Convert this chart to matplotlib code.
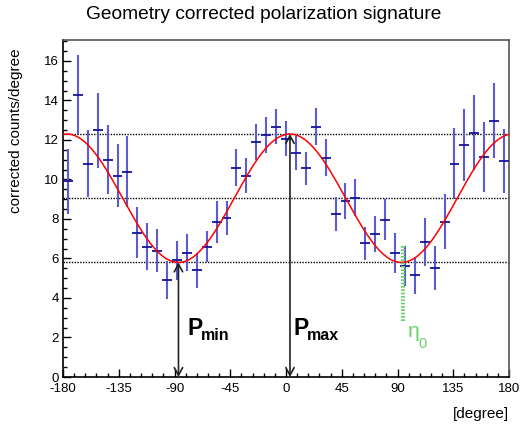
import numpy as np
import matplotlib
matplotlib.use("Agg")
import matplotlib.pyplot as plt
from matplotlib.ticker import MultipleLocator

plt.rcParams['font.family'] = ['Liberation Sans', 'DejaVu Sans']

# ---- data ----
bin_width = 8
angles = np.arange(-176, 180, bin_width)  # bin centres [degree]
counts = [9.9, 14.3, 10.8, 12.5, 11.0, 10.2, 10.4, 7.3, 6.6, 6.4,
          4.9, 5.9, 6.3, 5.4, 6.6, 7.85, 8.05, 10.6, 10.2, 11.9,
          12.25, 12.67, 12.07, 11.35, 10.56, 12.67, 11.1, 8.24, 8.9, 9.07,
          6.77, 7.24, 7.97, 6.28, 5.63, 5.14, 6.84, 5.52, 7.87, 10.8,
          11.74, 12.37, 11.13, 12.98, 10.93]
errors = [1.65, 2.0, 1.7, 1.9, 1.75, 1.6, 1.8, 1.3, 1.2, 1.1,
          0.95, 1.0, 0.95, 0.9, 0.8, 1.05, 0.85, 0.95, 0.9, 0.9,
          0.92, 0.9, 0.88, 0.85, 0.83, 0.95, 0.93, 0.85, 0.9, 0.93,
          0.83, 0.89, 1.05, 1.0, 1.0, 0.93, 1.2, 1.13, 1.4, 1.78,
          1.84, 1.9, 1.77, 1.9, 1.64]

fit_offset = 9.05
fit_amplitude = 3.25
fit_phase = 3.2      # degree of maximum
eta0 = 94.2
eta_range = [2.86, 6.7]

xticks = [-180, -135, -90, -45, 0, 45, 90, 135, 180]

# ---- figure ----
fig = plt.figure(figsize=(5.21, 4.28), dpi=100)
ax = fig.add_axes([63/521, 1-377/428, (509-63)/521, (377-40)/428])

ax.set_xlim(-180, 180)
ax.set_ylim(0, 17.06)

pmax = fit_offset + fit_amplitude
pmin = fit_offset - fit_amplitude
for lvl in (pmax, fit_offset, pmin):
    ax.axhline(lvl, color='black', lw=1.0, ls=(0, (1, 1)), zorder=1)

# data points
ax.errorbar(angles, counts, yerr=errors, fmt='none', ecolor='#5b5bd2',
            elinewidth=1.5, capsize=0, zorder=3)
ax.errorbar(angles, counts, xerr=bin_width/2, fmt='none', ecolor='#14149c',
            elinewidth=1.3, capsize=0, zorder=4)

# fit
xf = np.linspace(-180, 180, 721)
yf = fit_offset + fit_amplitude*np.cos(np.radians(2*(xf - fit_phase)))
ax.plot(xf, yf, color='red', lw=1.1, zorder=5)

# arrows
arrow_kw = dict(arrowstyle='<->,head_length=0.55,head_width=0.3',
                color='#222222', lw=1.2, shrinkA=0, shrinkB=0)
ax.annotate('', xy=(fit_phase - 90, 0), xytext=(fit_phase - 90, pmin),
            arrowprops=arrow_kw, zorder=6)
ax.annotate('', xy=(fit_phase, 0), xytext=(fit_phase, pmax),
            arrowprops=arrow_kw, zorder=6)

ax.text(-79.7, 2.13, 'P', fontsize=16.5, fontweight='bold', ha='left', va='baseline')
ax.text(-68.6, 1.88, 'min', fontsize=11.5, fontweight='bold', ha='left', va='baseline')
ax.text(5.9, 2.13, 'P', fontsize=16.5, fontweight='bold', ha='left', va='baseline')
ax.text(16.7, 1.88, 'max', fontsize=11.5, fontweight='bold', ha='left', va='baseline')

# eta0
ax.plot([eta0, eta0], eta_range, color='#66d466', lw=3, ls=(0, (0.4, 0.4)), zorder=7)
ax.text(98.0, 2.04, 'η', fontsize=15, color='#66d466', ha='left', va='baseline')
ax.text(107.0, 1.46, '0', fontsize=10.5, color='#66d466', ha='left', va='baseline')

# axes styling
ax.set_xticks(xticks)
ax.set_xticklabels([str(t) for t in xticks])
ax.xaxis.set_minor_locator(MultipleLocator(9))
ax.yaxis.set_major_locator(MultipleLocator(2))
ax.yaxis.set_minor_locator(MultipleLocator(0.5))
ax.tick_params(which='both', direction='in', top=False, right=False,
               labelsize=9.5, width=1.0, color='black')
ax.tick_params(which='major', length=6)
ax.tick_params(which='minor', length=3.2)
ax.tick_params(axis='x', pad=4)
ax.tick_params(axis='y', pad=3)
for sp in ax.spines.values():
    sp.set_linewidth(1.2)
ax.spines['top'].set_color('#555555')
ax.spines['right'].set_color('#555555')

ax.set_ylabel('corrected counts/degree', fontsize=11, loc='top')
ax.yaxis.set_label_coords(-0.09, 0.975)
ax.set_xlabel('[degree]', fontsize=11, loc='right')
ax.xaxis.set_label_coords(1.0, -0.09)

fig.text(0.507, 0.965, 'Geometry corrected polarization signature',
         fontsize=13.8, ha='center', va='center')

fig.savefig('out.png', dpi=100)
